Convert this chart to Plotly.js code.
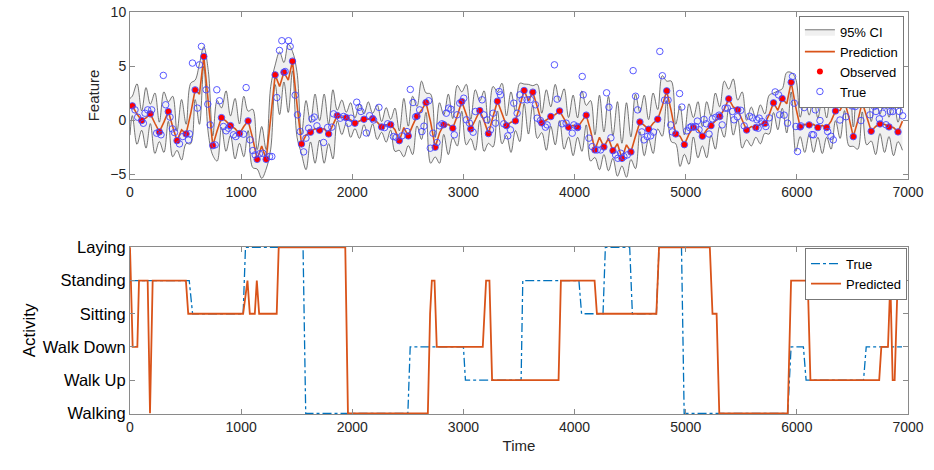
<!DOCTYPE html>
<html><head><meta charset="utf-8">
<script src="https://cdn.plot.ly/plotly-3.0.1.min.js"></script>
<style>html,body{margin:0;padding:0;background:#fff}</style>
</head><body><div id="chart" style="width:934px;height:470px"></div>
<script>
// ---- Top panel: observed samples ----
const obsT = [21,105,183,264,345,423,505,586,664,745,823,904,985,1063,1144,1225,1306,1385,1462,1543,1624,1706,1787,1865,1946,2024,2105,2183,2264,2345,2423,2504,2582,2663,2746,2823,2904,2985,3066,3147,3225,3306,3387,3468,3546,3624,3705,3786,3865,3946,4027,4105,4183,4264,4345,4426,4507,4588,4666,4748,4829,4910,4988,5069,5150,5228,5306,5387,5468,5548,5631,5712,5790,5868,5949,6030,6111,6189,6268,6348,6429,6508,6588,6669,6748,6829,6910];
const obsY = [1.31,-0.05,0.57,-1.1,0.78,-1.91,-1.29,2.79,5.88,-2.37,0.22,-0.52,-1.26,-0.08,-3.64,-3.64,4.18,4.42,5.45,-2.22,-1.13,-0.95,-1.29,0.41,0.22,-0.3,0.07,0.13,-0.64,-0.43,-1.91,-1.47,0.35,1.61,-2.52,-0.43,-0.76,1.71,-0.83,0.87,-1.26,1.74,-0.52,-0.08,2.73,2.58,-0.27,0.32,0.84,-0.67,-0.7,0.45,-2.77,-2.5,-2.84,-3.55,-2.96,-0.18,-0.86,0.07,2.7,-1.29,-2.28,-0.67,-1.5,-0.52,0.32,1.96,0.94,-0.93,-0.7,-0.33,1.59,1.99,3.5,-0.64,-0.45,-0.7,-0.7,0.84,1.77,-1.54,1.65,-1.04,-0.36,-0.64,-1.1];
// band limits at observed times
const ciUpObs = [2.21,0.85,1.47,-0.2,1.68,-1.01,-0.39,3.69,6.78,-1.47,1.12,0.38,-0.36,0.82,-2.74,-2.74,5.08,5.32,6.35,-1.32,-0.23,-0.05,-0.39,0.91,0.72,0.2,0.57,0.63,-0.14,0.07,-1.01,-0.57,1.25,2.51,-1.62,0.47,0.14,2.61,0.07,1.77,-0.36,2.64,0.38,0.82,3.33,3.18,0.63,1.22,1.74,0.23,0.2,1.35,-1.37,-1.1,-1.44,-2.15,-1.56,0.72,0.04,0.97,3.6,-0.39,-1.38,0.23,-0.6,0.38,1.22,2.86,1.84,-0.03,0.2,0.57,2.49,2.89,4.4,0.26,0.45,0.2,0.2,1.74,2.67,-0.64,2.55,-0.14,0.54,0.26,-0.2];
const ciLoObs = [0.41,-0.95,-0.33,-2.0,-0.12,-2.81,-2.19,1.89,4.98,-3.27,-0.68,-1.42,-2.16,-0.98,-4.54,-4.54,3.28,3.52,4.55,-3.12,-2.03,-1.85,-2.19,-0.09,-0.28,-0.8,-0.43,-0.37,-1.14,-0.93,-2.81,-2.37,-0.55,0.71,-3.42,-1.33,-1.66,0.81,-1.73,-0.03,-2.16,0.84,-1.42,-0.98,1.53,1.38,-1.17,-0.58,-0.06,-1.57,-1.6,-0.45,-3.47,-3.2,-3.54,-4.25,-3.66,-1.08,-1.76,-0.83,1.8,-2.19,-3.18,-1.57,-2.4,-1.42,-0.58,1.06,0.04,-1.83,-1.6,-1.23,0.69,1.09,2.6,-1.54,-1.35,-1.6,-1.6,-0.06,0.87,-2.44,0.75,-1.94,-1.26,-1.54,-2.0];
// between observations
const midT = [63,144,224,305,384,464,546,625,705,784,864,945,1024,1104,1185,1266,1346,1424,1503,1584,1665,1747,1826,1906,1985,2065,2144,2224,2305,2384,2464,2543,2623,2705,2785,2864,2945,3026,3107,3186,3266,3347,3428,3507,3585,3665,3746,3826,3906,3987,4066,4144,4224,4305,4386,4467,4548,4627,4707,4789,4870,4949,5029,5110,5189,5267,5347,5428,5508,5590,5672,5751,5829,5909,5990,6071,6150,6229,6308,6389,6469,6548,6629,6709,6789,6870];
const predMid = [0.55,0.2,-0.3,-0.2,-0.6,-0.9,0.6,2.4,1.6,-1.0,-0.1,-0.8,-0.6,-1.7,-2.4,0.2,3.1,3.7,1.4,-1.4,-0.8,-0.8,-0.4,0.25,0.0,-0.1,0.08,-0.2,-0.45,-0.9,-0.7,-0.5,0.9,-0.2,-1.2,-0.4,0.4,0.5,0.0,-0.1,0.3,0.6,-0.2,1.3,1.8,1.2,0.0,0.5,0.1,-0.5,-0.1,-1.0,-1.6,-1.7,-2.2,-2.3,-1.5,-0.5,-0.3,1.3,0.8,-1.5,-1.3,-0.9,-0.9,-0.1,1.0,1.2,0.0,-0.6,-0.4,0.5,0.9,1.5,1.2,-0.4,-0.4,-0.5,-0.1,0.9,0.2,-0.1,0.3,-0.6,-0.4,-0.7];
const ciUpMid = [3.35,3.0,2.5,2.6,2.2,1.9,3.4,5.2,4.5,1.8,2.7,2.0,2.2,1.0,-0.6,3.1,6.3,7.0,4.4,1.8,2.4,2.4,2.8,1.85,1.6,1.5,1.68,1.4,1.15,1.1,2.0,2.2,3.6,2.4,1.6,2.4,3.2,3.3,2.8,2.7,3.1,3.4,2.6,3.4,3.3,3.3,2.8,3.3,2.9,2.3,2.7,1.8,2.3,2.2,1.7,1.6,2.4,2.3,2.5,4.1,3.6,1.3,1.5,1.7,1.7,2.5,3.6,3.8,2.6,1.2,1.4,2.3,2.7,4.4,3.8,2.2,2.2,2.1,2.5,3.5,2.8,2.5,2.9,2.0,2.2,1.9];
const ciLoMid = [-2.25,-2.6,-3.1,-3.0,-3.4,-3.7,-2.2,-0.4,-1.3,-3.8,-2.9,-3.6,-3.4,-4.4,-5.4,-2.7,0.5,0.7,-1.6,-4.6,-4.0,-4.0,-3.6,-1.35,-1.6,-1.7,-1.52,-1.8,-2.05,-2.9,-3.4,-3.2,-1.8,-4.0,-4.0,-3.2,-2.4,-2.3,-2.8,-2.9,-2.5,-2.2,-3.0,-2.0,-1.3,-1.7,-2.8,-2.3,-2.7,-3.3,-2.9,-3.8,-4.6,-4.7,-5.2,-5.3,-4.5,-3.3,-3.1,-1.5,-2.0,-4.3,-4.1,-3.5,-3.5,-2.7,-1.6,-1.4,-2.6,-2.4,-2.2,-1.3,-0.9,-1.2,-2.9,-3.0,-3.0,-3.1,-2.7,-1.7,-2.4,-2.7,-2.3,-3.2,-3.0,-3.3];
// ends of the curves [start, end]
const edgeT = [0, 6950];
const edgePred = [1.2, -0.1];
const edgeUp = [2.0, 2.4];
const edgeLo = [-1.4, -2.8];
// true values not at observed times
const trueT = [45,69,120,135,159,195,240,279,300,321,360,381,400,445,475,526,535,562,607,625,643,685,700,721,766,781,805,841,865,886,931,952,1021,1045,1081,1105,1126,1165,1195,1255,1276,1321,1345,1366,1396,1426,1441,1486,1507,1532,1562,1583,1607,1637,1658,1682,1742,1778,1816,1832,1892,1922,1967,1988,2040,2060,2078,2126,2156,2192,2240,2290,2318,2370,2396,2447,2492,2522,2546,2570,2606,2627,2645,2687,2702,2726,2762,2786,2807,2846,2867,2888,2918,2943,2967,3003,3027,3054,3087,3108,3168,3183,3213,3243,3267,3288,3321,3333,3363,3399,3423,3453,3483,3507,3528,3573,3603,3648,3663,3693,3738,3753,3819,3843,3888,3924,3979,3994,4024,4069,4078,4129,4159,4204,4234,4288,4309,4327,4369,4390,4414,4444,4474,4527,4549,4567,4605,4624,4654,4684,4710,4767,4790,4810,4841,4865,4880,4945,4965,5010,5035,5051,5090,5105,5120,5165,5185,5210,5240,5270,5300,5328,5355,5375,5420,5435,5465,5495,5526,5575,5601,5640,5652,5661,5685,5721,5751,5805,5835,5845,5886,5916,5961,5976,5991,6006,6036,6066,6136,6150,6166,6208,6228,6277,6307,6328,6388,6406,6442,6496,6526,6577,6601,6637,6658,6697,6712,6742,6772,6787,6802,6841,6862,6922,6952];
const trueY = [0.94,0.26,-0.3,0.63,0.94,0.94,-1.22,-1.37,4.13,1.41,0.27,-0.82,-1.16,-2.21,-1.53,-1.84,-1.28,5.27,1.1,5.11,6.81,2.8,1.47,-0.45,-2.3,2.8,1.78,-0.6,-1.0,-0.76,-1.37,-1.53,-1.31,3.0,-1.84,-2.83,-3.23,-3.13,-3.07,-3.38,-3.38,2.08,6.44,7.34,4.49,7.34,6.81,2.3,0.48,-1.07,-2.95,-1.68,-0.76,0.11,0.27,-0.54,-2.08,-0.69,-0.66,0.57,0.17,0.33,-0.3,0.17,1.65,1.17,0.79,-1.2,0.4,0.0,1.17,-0.7,-0.35,-1.53,-1.6,-1.47,-1.07,2.83,1.62,0.3,0.94,-1.07,-0.57,1.78,-2.61,-1.22,-2.08,-0.54,-0.35,0.63,1.1,1.0,-1.37,0.48,1.56,2.02,0.02,-0.29,-1.13,0.79,1.87,0.48,0.02,-0.91,0.63,-0.29,2.64,2.33,-0.35,-1.47,-0.91,1.56,0.63,2.33,1.87,1.87,1.9,1.41,0.17,-0.05,-0.66,-0.45,5.11,1.93,-0.35,-0.29,-1.22,-0.45,-0.6,4.03,2.33,-1.68,-2.46,-2.77,-2.77,2.52,1.19,-1.65,-3.23,-3.54,-3.07,-3.38,-3.23,4.57,2.2,0.94,-1.1,-1.84,-1.53,-1.47,-1.12,6.35,4.1,1.84,1.84,-0.45,-1.1,2.45,1.2,-1.0,-0.7,-0.6,-0.6,-0.1,-0.9,0.05,-0.35,-1.3,0.11,0.25,0.45,-0.45,1.1,1.1,0.79,0.02,0.3,0.9,-0.54,0.35,0.2,0.02,-0.76,0.17,-0.14,-0.6,0.2,2.6,2.33,0.48,0.45,-0.29,4.03,1.56,-0.6,-2.92,-0.54,1.15,-1.35,-1.37,0.94,-0.05,1.82,-1.07,-1.5,-1.84,0.0,1.56,0.3,1.3,1.25,-0.05,1.81,1.72,0.48,1.25,0.79,0.11,0.63,1.31,-0.44,0.79,0.79,0.79,0.39];

// ---- Bottom panel: activity ----
const activities = ['Walking','Walk Up','Walk Down','Sitting','Standing','Laying'];
const actTrueT = [0,533,563,1018,1039,1557,1581,2500,2521,3000,3018,3519,3534,4039,4063,4256,4277,4496,4520,4736,4760,4962,4986,5918,5948,6059,6083,6600,6624,6946];
const actTrueY = ['Standing','Standing','Sitting','Sitting','Laying','Laying','Walking','Walking','Walk Down','Walk Down','Walk Up','Walk Up','Standing','Standing','Sitting','Sitting','Laying','Laying','Sitting','Sitting','Laying','Laying','Walking','Walking','Walk Down','Walk Down','Walk Up','Walk Up','Walk Down','Walk Down'];
const actPredT = [0,24,66,81,159,180,204,503,524,1018,1057,1078,1123,1141,1162,1320,1338,1937,1961,2680,2700,2716,2740,2760,3174,3204,3234,3258,3856,3877,4180,4201,4736,4760,5217,5241,5278,5302,5918,5948,6098,6122,6741,6760,6820,6841,6862,6880,6907];
const actPredY = ['Laying','Walk Down','Walk Down','Standing','Standing','Walking','Standing','Standing','Sitting','Sitting','Standing','Sitting','Sitting','Standing','Sitting','Sitting','Laying','Laying','Walking','Walking','Sitting','Standing','Standing','Walk Down','Walk Down','Standing','Standing','Walk Up','Walk Up','Standing','Standing','Sitting','Sitting','Laying','Laying','Sitting','Sitting','Walking','Walking','Standing','Standing','Walk Up','Walk Up','Walk Down','Walk Down','Standing','Walk Up','Walk Up','Standing'];

const xTicks = [0,1000,2000,3000,4000,5000,6000,7000];
const yTicksTop = [-5,0,5,10];

// ---- build curve tables ----
const bT=[edgeT[0]], bP=[edgePred[0]], bU=[edgeUp[0]], bL=[edgeLo[0]];
for (let i=0;i<obsT.length;i++){
  bT.push(obsT[i]); bP.push(obsY[i]); bU.push(ciUpObs[i]); bL.push(ciLoObs[i]);
  if (i<midT.length){ bT.push(midT[i]); bP.push(predMid[i]); bU.push(ciUpMid[i]); bL.push(ciLoMid[i]); }
}
bT.push(edgeT[1]); bP.push(edgePred[1]); bU.push(edgeUp[1]); bL.push(edgeLo[1]);

const FONT = 'Liberation Sans, Arial, Helvetica, sans-serif';
const orange = '#D95319', blue = '#0072BD';

const traces = [
  {x:bT, y:bL, mode:'lines', line:{color:'#3c3c3c', width:0.7, shape:'spline', smoothing:1}, showlegend:false, hoverinfo:'skip', xaxis:'x', yaxis:'y'},
  {x:bT, y:bU, mode:'lines', fill:'tonexty', fillcolor:'rgb(240,240,240)', line:{color:'#3c3c3c', width:0.7, shape:'spline', smoothing:1}, name:'95% CI', legend:'legend', xaxis:'x', yaxis:'y'},
  {x:bT, y:bP, mode:'lines', line:{color:orange, width:1.6}, name:'Prediction', legend:'legend', xaxis:'x', yaxis:'y'},
  {x:obsT, y:obsY, mode:'markers', marker:{color:'#ff0000', size:6, symbol:'circle'}, name:'Observed', legend:'legend', xaxis:'x', yaxis:'y'},
  {x:trueT.concat(obsT), y:trueY.concat(obsY), mode:'markers', marker:{color:'rgb(70,70,255)', size:6.5, symbol:'circle-open', line:{width:0.9, color:'rgb(70,70,255)'}}, name:'True', legend:'legend', xaxis:'x', yaxis:'y'},
  {x:actTrueT, y:actTrueY, mode:'lines', line:{color:blue, width:1.3, dash:'dashdot'}, name:'True', legend:'legend2', xaxis:'x2', yaxis:'y2'},
  {x:actPredT, y:actPredY, mode:'lines', line:{color:orange, width:1.8}, name:'Predicted', legend:'legend2', xaxis:'x2', yaxis:'y2'}
];

const axBase = {showline:true, mirror:'ticks', linecolor:'#8a8a8a', linewidth:1, ticks:'inside', ticklen:5, tickcolor:'#8a8a8a', showgrid:false, zeroline:false};

const layout = {
  width:934, height:470,
  margin:{l:130, r:26, t:12, b:56},
  paper_bgcolor:'#fff', plot_bgcolor:'#fff',
  font:{family:FONT, color:'#262626'},
  xaxis:Object.assign({}, axBase, {domain:[0,1], anchor:'y', range:[0,7000], tickvals:xTicks, tickfont:{size:14, color:'#262626'}}),
  yaxis:Object.assign({}, axBase, {domain:[0.5846,1], anchor:'x', range:[-5.46,10], tickvals:yTicksTop, tickfont:{size:14, color:'#262626'}, title:{text:'Feature', font:{size:15, color:'#262626'}, standoff:6}}),
  xaxis2:Object.assign({}, axBase, {domain:[0,1], anchor:'y2', range:[0,7000], tickvals:xTicks, tickfont:{size:14, color:'#262626'}, title:{text:'Time', font:{size:15, color:'#262626'}, standoff:6}}),
  yaxis2:Object.assign({}, axBase, {domain:[0,0.4162], anchor:'x2', type:'category', categoryorder:'array', categoryarray:activities, range:[-0.02,5.02], tickfont:{size:16.5, color:'#000'}, title:{text:'Activity', font:{size:17, color:'#000'}, standoff:2}}),
  legend:{x:0.995, y:0.99, xanchor:'right', yanchor:'top', traceorder:'normal', bgcolor:'#fff', bordercolor:'#555', borderwidth:0.8, font:{size:13, color:'#000'}, itemwidth:30, tracegroupgap:0},
  legend2:{x:0.999, y:0.413, xanchor:'right', yanchor:'top', traceorder:'normal', bgcolor:'#fff', bordercolor:'#555', borderwidth:0.8, font:{size:13, color:'#000'}, itemwidth:30, tracegroupgap:0},
  showlegend:true
};

Plotly.newPlot('chart', traces, layout, {displayModeBar:false, staticPlot:true});
</script></body></html>
